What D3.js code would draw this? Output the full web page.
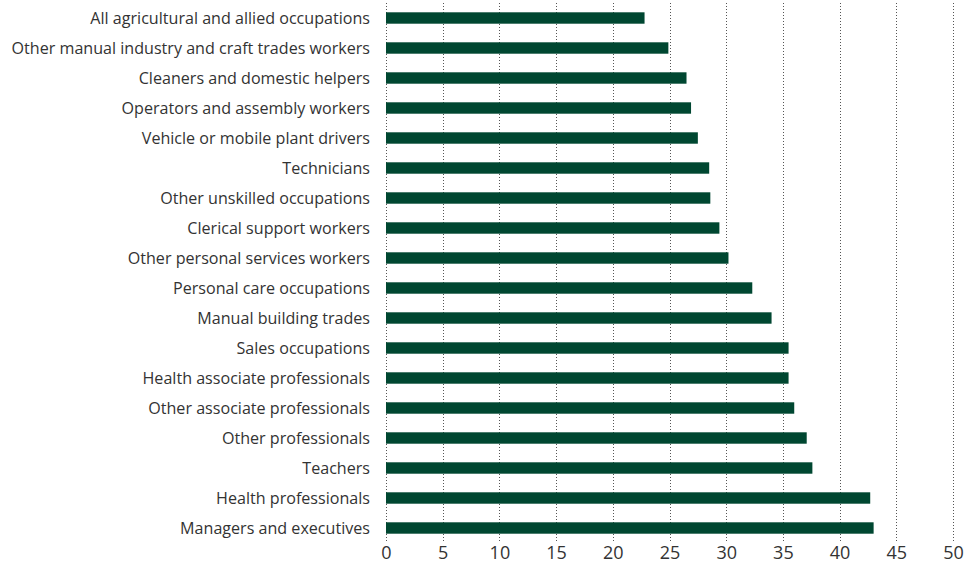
<!DOCTYPE html>
<html>
<head>
<meta charset="utf-8">
<script src="https://cdn.jsdelivr.net/npm/d3@7"></script>
<style>
  body { margin: 0; background: #fff; }
  svg text { font-family: "Open Sans", "Noto Sans", sans-serif; fill: #333; }
</style>
</head>
<body>
<svg id="chart" width="974" height="566"></svg>
<script>
const categories = [
  "All agricultural and allied occupations",
  "Other manual industry and craft trades workers",
  "Cleaners and domestic helpers",
  "Operators and assembly workers",
  "Vehicle or mobile plant drivers",
  "Technicians",
  "Other unskilled occupations",
  "Clerical support workers",
  "Other personal services workers",
  "Personal care occupations",
  "Manual building trades",
  "Sales occupations",
  "Health associate professionals",
  "Other associate professionals",
  "Other professionals",
  "Teachers",
  "Health professionals",
  "Managers and executives"
];
const values = [22.8, 24.9, 26.5, 26.9, 27.5, 28.5, 28.6, 29.4, 30.2, 32.3, 34.0, 35.5, 35.5, 36.0, 37.1, 37.6, 42.7, 43.0];
const xTicks = [0, 5, 10, 15, 20, 25, 30, 35, 40, 45, 50];

const margin = {top: 3, right: 21, bottom: 24, left: 386};
const width = 974, height = 566;
const svg = d3.select("#chart");

const x = d3.scaleLinear().domain([0, 50]).range([margin.left, width - margin.right]);
const y = d3.scaleBand().domain(categories)
  .range([margin.top, margin.top + 30 * categories.length])
  .paddingInner(0.62).paddingOuter(0.31);

// gridlines
svg.append("g")
  .selectAll("line")
  .data(xTicks)
  .join("line")
  .attr("x1", d => Math.round(x(d)) + 0.5)
  .attr("x2", d => Math.round(x(d)) + 0.5)
  .attr("y1", 3)
  .attr("y2", 542)
  .attr("stroke", "#555")
  .attr("stroke-width", 1)
  .attr("stroke-dasharray", "1,2");

// bars
svg.append("g")
  .selectAll("rect")
  .data(values)
  .join("rect")
  .attr("x", x(0))
  .attr("y", (d, i) => y(categories[i]))
  .attr("width", d => x(d) - x(0))
  .attr("height", y.bandwidth())
  .attr("fill", "#004731");

// category labels
svg.append("g")
  .selectAll("text")
  .data(categories)
  .join("text")
  .attr("x", 370)
  .attr("y", d => y(d) + y.bandwidth() / 2)
  .attr("dy", "0.35em")
  .attr("text-anchor", "end")
  .attr("font-size", 16.1)
  .text(d => d);

// x axis labels
const xAxis = d3.axisBottom(x).tickValues(xTicks).tickSize(0).tickPadding(0);
svg.append("g")
  .attr("transform", `translate(0,${545})`)
  .call(xAxis)
  .call(g => g.select(".domain").remove())
  .call(g => g.selectAll("text")
    .attr("font-size", 18)
    .attr("dy", "0.75em")
    .style("fill", "#333"));
</script>
</body>
</html>
